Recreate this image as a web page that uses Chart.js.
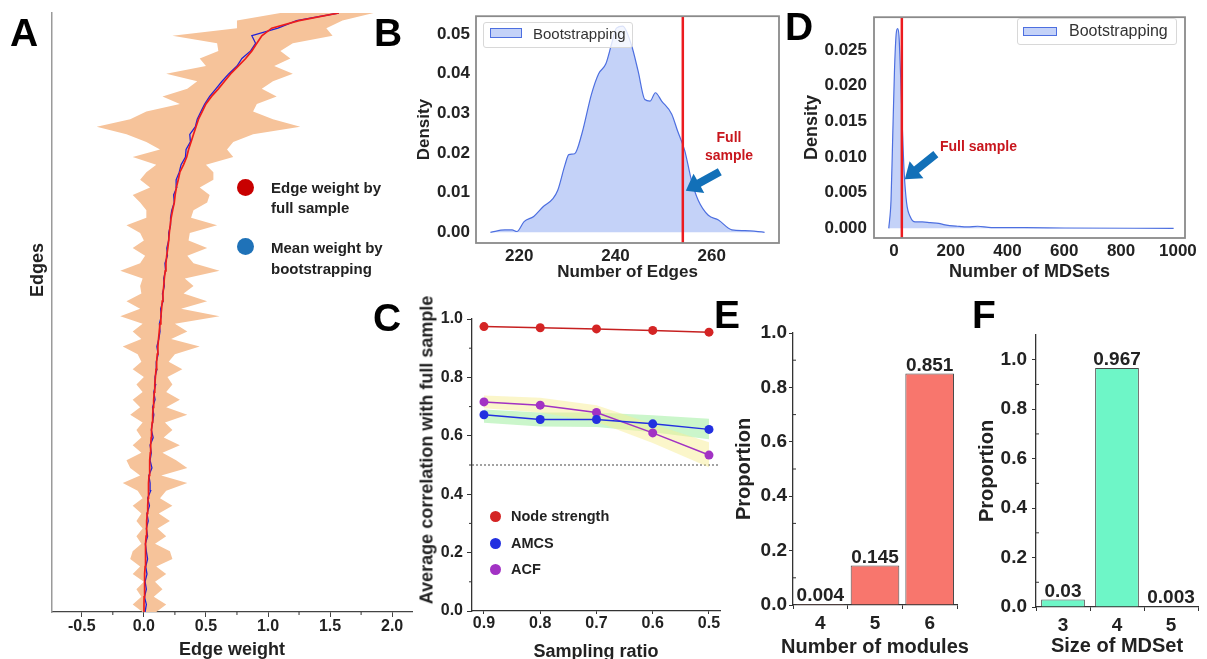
<!DOCTYPE html>
<html>
<head>
<meta charset="utf-8">
<script src="https://cdn.jsdelivr.net/npm/chart.js@4.4.1/dist/chart.umd.min.js"></script>
<style>
  body { margin: 0; width: 1207px; height: 659px; overflow: hidden; background: #fff; position: relative;
         font-family: "Liberation Sans", Arial, sans-serif; color: #222; }
  canvas { position: absolute; }
  .txt { position: absolute; white-space: nowrap; font-weight: bold; }
  .letter { position: absolute; font-size: 39px; line-height: 39px; font-weight: bold; color: #000; }
  .dot { position: absolute; border-radius: 50%; }
  .lgbox { position: absolute; border: 1px solid #d8d8d8; border-radius: 3px; background: rgba(255,255,255,0.8); box-sizing: border-box; }
  .sw { position: absolute; background: rgba(125,155,240,0.45); border: 1px solid #4d6fe0; box-sizing: border-box; }
</style>
</head>
<body>
<canvas id="cA" width="420" height="675" style="left:0;top:0"></canvas>
<canvas id="cB" width="395" height="290" style="left:395px;top:0"></canvas>
<canvas id="cD" width="417" height="290" style="left:790px;top:0"></canvas>
<canvas id="cC" width="330" height="385" style="left:395px;top:290px"></canvas>
<canvas id="cE" width="245" height="385" style="left:725px;top:290px"></canvas>
<canvas id="cF" width="237" height="385" style="left:970px;top:290px"></canvas>

<!-- panel letters -->
<div class="letter" style="left:10px;top:13px">A</div>
<div class="letter" style="left:374px;top:13px">B</div>
<div class="letter" style="left:373px;top:298px">C</div>
<div class="letter" style="left:785px;top:7px">D</div>
<div class="letter" style="left:714px;top:295px">E</div>
<div class="letter" style="left:972px;top:295px">F</div>

<!-- A: axis title + legend -->
<div class="txt" style="left:37px;top:270px;font-size:18px;transform:translate(-50%,-50%) rotate(-90deg)">Edges</div>
<div class="dot" style="left:237px;top:179px;width:17px;height:17px;background:#c80000"></div>
<div class="txt" style="left:271px;top:178px;font-size:15px;line-height:20px">Edge weight by<br>full sample</div>
<div class="dot" style="left:237px;top:238px;width:17px;height:17px;background:#1f72b8"></div>
<div class="txt" style="left:271px;top:237px;font-size:15px;line-height:21px">Mean weight by<br>bootstrapping</div>

<!-- B: legend + note -->
<div class="lgbox" style="left:483px;top:22px;width:150px;height:26px"></div>
<div class="sw" style="left:490px;top:28px;width:32px;height:10px"></div>
<div class="txt" style="left:533px;top:26px;font-size:15px;line-height:15px;font-weight:normal;color:#333">Bootstrapping</div>
<div class="txt" style="left:699px;top:128px;width:60px;text-align:center;font-size:14px;line-height:18px;color:#c8161d">Full<br>sample</div>

<!-- D: legend + note -->
<div class="lgbox" style="left:1017px;top:18px;width:160px;height:27px"></div>
<div class="sw" style="left:1023px;top:27px;width:34px;height:9px"></div>
<div class="txt" style="left:1069px;top:23px;font-size:16px;line-height:16px;font-weight:normal;color:#333">Bootstrapping</div>
<div class="txt" style="left:940px;top:138px;font-size:14px;line-height:16px;color:#c8161d">Full sample</div>

<!-- C: y title + legend -->
<div class="txt" style="left:427px;top:450px;font-size:18px;transform:translate(-50%,-50%) rotate(-90deg)">Average correlation with full sample</div>
<div class="dot" style="left:490px;top:511px;width:11px;height:11px;background:#d42424"></div>
<div class="txt" style="left:511px;top:508px;font-size:14.5px;line-height:16px">Node strength</div>
<div class="dot" style="left:490px;top:538px;width:11px;height:11px;background:#2330e0"></div>
<div class="txt" style="left:511px;top:535px;font-size:14.5px;line-height:16px">AMCS</div>
<div class="dot" style="left:490px;top:564px;width:11px;height:11px;background:#a232c4"></div>
<div class="txt" style="left:511px;top:561px;font-size:14.5px;line-height:16px">ACF</div>

<!-- E: x title (kept outside the canvas so it is not squeezed to the axis width) -->
<div class="txt" style="left:875px;top:634px;font-size:20px;line-height:24px;transform:translateX(-50%)">Number of modules</div>

<script>
// ---- A: edge weights, edges sorted from bottom (0) to top ----
const edgeFull = [
  0.000, 0.001, 0.002, 0.004, 0.006, 0.008, 0.010, 0.012, 0.013, 0.016,
  0.018, 0.021, 0.024, 0.027, 0.031, 0.034, 0.036, 0.039, 0.042, 0.045,
  0.049, 0.052, 0.055, 0.059, 0.062, 0.067, 0.071, 0.075, 0.079, 0.084,
  0.088, 0.093, 0.098, 0.103, 0.108, 0.113, 0.118, 0.124, 0.130, 0.137,
  0.143, 0.148, 0.154, 0.160, 0.165, 0.172, 0.178, 0.184, 0.193, 0.200,
  0.205, 0.212, 0.220, 0.232, 0.245, 0.252, 0.262, 0.277, 0.290, 0.320,
  0.345, 0.360, 0.380, 0.400, 0.420, 0.440, 0.470, 0.500, 0.545, 0.600,
  0.650, 0.700, 0.760, 0.820, 0.870, 0.910, 0.950, 1.030, 1.250, 1.570
];
const edgeMean = [
  0.010, 0.020, 0.005, 0.020, 0.010, 0.025, 0.015, 0.030, 0.020, 0.012,
  0.030, 0.020, 0.035, 0.025, 0.045, 0.030, 0.055, 0.050, 0.040, 0.065,
  0.050, 0.060, 0.050, 0.075, 0.060, 0.070, 0.080, 0.070, 0.090, 0.080,
  0.095, 0.090, 0.105, 0.100, 0.115, 0.105, 0.120, 0.130, 0.125, 0.140,
  0.135, 0.155, 0.150, 0.165, 0.160, 0.175, 0.170, 0.190, 0.185, 0.200,
  0.200, 0.215, 0.215, 0.225, 0.245, 0.240, 0.265, 0.260, 0.285, 0.300,
  0.335, 0.340, 0.375, 0.370, 0.415, 0.430, 0.460, 0.490, 0.530, 0.580,
  0.630, 0.685, 0.750, 0.790, 0.860, 0.900, 0.870, 1.080, 1.230, 1.570
];
const edgeLow = [
  -0.01, -0.09, -0.02, -0.06, 0.00, -0.09, -0.03, -0.11, -0.09, -0.02,
  -0.06, -0.01, -0.06, -0.02, -0.09, -0.01, -0.05, -0.17, -0.03, -0.11,
  -0.14, -0.02, -0.09, -0.02, -0.06, -0.01, -0.11, -0.03, -0.09, -0.01,
  -0.06, 0.00, -0.09, -0.02, -0.05, -0.17, -0.02, -0.09, -0.01, -0.19,
  -0.03, -0.14, -0.02, -0.03, -0.01, -0.19, -0.03, 0.01, -0.09, 0.00,
  -0.03, -0.14, 0.02, 0.02, -0.03, -0.09, 0.05, -0.03, 0.02, 0.10,
  -0.09, 0.13, 0.02, -0.14, -0.38, -0.11, 0.02, 0.29, 0.15, 0.35,
  0.43, 0.18, 0.50, 0.45, 0.60, 0.59, 0.23, 0.75, 0.75, 1.10
];
const edgeHigh = [
  0.10, 0.18, 0.08, 0.15, 0.09, 0.18, 0.10, 0.23, 0.21, 0.09,
  0.18, 0.11, 0.21, 0.12, 0.23, 0.13, 0.18, 0.35, 0.14, 0.35,
  0.26, 0.15, 0.29, 0.16, 0.23, 0.17, 0.35, 0.18, 0.29, 0.18,
  0.23, 0.19, 0.31, 0.20, 0.25, 0.45, 0.22, 0.35, 0.25, 0.61,
  0.30, 0.51, 0.32, 0.40, 0.33, 0.61, 0.40, 0.35, 0.51, 0.36,
  0.37, 0.59, 0.38, 0.40, 0.51, 0.53, 0.45, 0.56, 0.56, 0.50,
  0.72, 0.67, 0.72, 0.88, 1.26, 1.04, 0.88, 0.91, 1.07, 0.95,
  1.04, 1.20, 1.05, 1.18, 1.10, 1.20, 1.52, 1.47, 1.60, 1.85
];

// ---- B: density of number of edges ----
const edgeCounts = [214, 217, 218.5, 219.5, 221, 223, 225, 227, 228, 229.5, 230.3, 231.5, 233, 235, 236.5, 238,
  239.3, 240.2, 241.5, 243.3, 244.7, 246.1, 247.2, 248.3, 249.6, 251.7, 252.9, 254.4, 255.8, 257.2, 259.3,
  261.4, 264.2, 266.9, 271];
const edgeDensity = [0, 0.0006, 0.0006, 0.0002, 0.0027, 0.0040, 0.0065, 0.0085, 0.0106, 0.0170, 0.0196, 0.0198,
  0.0248, 0.0348, 0.0400, 0.0425, 0.0480, 0.0515, 0.0520, 0.0473, 0.0407, 0.0335, 0.0331, 0.0352, 0.0331,
  0.0298, 0.0256, 0.0206, 0.0131, 0.0081, 0.0043, 0.0031, 0.0006, 0.0004, 0];
const fullEdges = 254;

// ---- D: density of number of MDSets ----
const mdsetCounts = [-18, -10, -4, 2, 8, 13, 18, 24, 30, 36, 45, 58, 75, 100, 128, 158, 180, 224, 260, 295, 343, 460, 600, 985];
const mdsetDensity = [0, 0.0040, 0.0130, 0.0220, 0.0272, 0.0280, 0.0270, 0.0210, 0.0140, 0.0080, 0.0035, 0.0016,
  0.0009, 0.0009, 0.0008, 0.0007, 0.0005, 0.0003, 0.0002, 0.0003, 0.0001, 0.0001, 0.00005, 0];
const fullMdsets = 28;

// ---- C: correlation vs sampling ratio ----
const ratios = [0.9, 0.8, 0.7, 0.6, 0.5];
const nodeStrength = [0.974, 0.970, 0.966, 0.961, 0.955];
const amcs = [0.672, 0.656, 0.656, 0.641, 0.622];
const amcsLow = [0.645, 0.632, 0.630, 0.612, 0.588];
const amcsHigh = [0.690, 0.680, 0.680, 0.670, 0.658];
const acf = [0.716, 0.705, 0.680, 0.610, 0.534];
const acfLow = [0.694, 0.680, 0.648, 0.575, 0.492];
const acfHigh = [0.738, 0.730, 0.705, 0.640, 0.578];
const threshold = 0.5;

// ---- E / F: proportions ----
const moduleCats = ['4', '5', '6'];
const moduleProps = [0.004, 0.145, 0.851];
const mdsetSizes = ['3', '4', '5'];
const mdsetProps = [0.03, 0.967, 0.003];

const FONT = '"Liberation Sans", Arial, sans-serif';
Chart.defaults.font.family = FONT;
Chart.defaults.color = '#222';
Chart.defaults.animation = false;
Chart.defaults.events = [];
Chart.defaults.plugins.legend.display = false;
Chart.defaults.plugins.tooltip.enabled = false;

const bold = size => ({family: FONT, size: size, weight: 'bold'});
const fitW = w => s => { s.width = w; };
const fitH = h => s => { s.height = h; };
const pts = (xs, ys) => xs.map((x, i) => ({x: x, y: ys[i]}));

// small ticks half way between the labelled ones
const minorTicks = {
  id: 'minorTicks',
  afterDraw(chart, args, opts) {
    const ctx = chart.ctx;
    (opts.axes || []).forEach(a => {
      const s = chart.scales[a.id];
      const t = s.ticks.map(k => k.value);
      ctx.save();
      ctx.strokeStyle = '#333';
      ctx.lineWidth = 1;
      for (let k = 0; k < t.length - 1; k++) {
        const p = s.getPixelForValue((t[k] + t[k + 1]) / 2);
        ctx.beginPath();
        if (s.isHorizontal()) { ctx.moveTo(p, s.top); ctx.lineTo(p, s.top + a.len); }
        else { ctx.moveTo(s.right, p); ctx.lineTo(s.right + a.dir * a.len, p); }
        ctx.stroke();
      }
      ctx.restore();
    });
  }
};

const frame = {
  id: 'frame',
  afterDraw(chart) {
    const {ctx, chartArea: a} = chart;
    ctx.save();
    ctx.strokeStyle = '#8a8a8a';
    ctx.lineWidth = 1.8;
    ctx.strokeRect(a.left, a.top, a.right - a.left, a.bottom - a.top);
    ctx.restore();
  }
};

function drawArrow(ctx, tx, ty, fx, fy, color) {
  const dx = tx - fx, dy = ty - fy, L = Math.hypot(dx, dy);
  const ux = dx / L, uy = dy / L, nx = -uy, ny = ux;
  const head = 15, hw = 11, sw = 4;
  const bx = tx - ux * head, by = ty - uy * head;
  ctx.save();
  ctx.fillStyle = color;
  ctx.beginPath();
  ctx.moveTo(fx + nx * sw, fy + ny * sw);
  ctx.lineTo(bx + nx * sw, by + ny * sw);
  ctx.lineTo(bx + nx * hw, by + ny * hw);
  ctx.lineTo(tx, ty);
  ctx.lineTo(bx - nx * hw, by - ny * hw);
  ctx.lineTo(bx - nx * sw, by - ny * sw);
  ctx.lineTo(fx - nx * sw, fy - ny * sw);
  ctx.closePath();
  ctx.fill();
  ctx.restore();
}

// red line for the full sample value + blue arrow pointing at it
const fullLine = {
  id: 'fullLine',
  afterDatasetsDraw(chart, args, o) {
    const {ctx, chartArea: a, scales: {x, y}} = chart;
    const px = x.getPixelForValue(o.value);
    ctx.save();
    ctx.strokeStyle = '#ec1b1f';
    ctx.lineWidth = 2.5;
    ctx.beginPath();
    ctx.moveTo(px, a.top);
    ctx.lineTo(px, a.bottom);
    ctx.stroke();
    ctx.restore();
    const tx = px + o.tipDx, ty = y.getPixelForValue(o.tipY);
    drawArrow(ctx, tx, ty, tx + o.tail[0], ty + o.tail[1], '#1270b8');
  }
};

const refLine = {
  id: 'refLine',
  beforeDatasetsDraw(chart, args, o) {
    const {ctx, chartArea: a, scales: {y}} = chart;
    const py = y.getPixelForValue(o.value);
    ctx.save();
    ctx.strokeStyle = '#666';
    ctx.lineWidth = 1.2;
    ctx.setLineDash([2, 2]);
    ctx.beginPath();
    ctx.moveTo(a.left, py);
    ctx.lineTo(a.right, py);
    ctx.stroke();
    ctx.restore();
  }
};

const barLabels = {
  id: 'barLabels',
  afterDatasetsDraw(chart) {
    const ctx = chart.ctx;
    const vals = chart.data.datasets[0].data;
    ctx.save();
    ctx.font = 'bold 19px ' + FONT;
    ctx.fillStyle = '#222';
    ctx.textAlign = 'center';
    ctx.textBaseline = 'alphabetic';
    chart.getDatasetMeta(0).data.forEach((bar, i) => ctx.fillText(String(vals[i]), bar.x, bar.y - 3));
    ctx.restore();
  }
};

const axisLine = {color: '#333', width: 1.3};

// ---------- A ----------
const idx = edgeFull.map((v, i) => i);
new Chart(document.getElementById('cA'), {
  type: 'line',
  data: {
    datasets: [
      {data: pts(edgeLow, idx).concat(pts(edgeHigh, idx).reverse()), fill: 'shape', order: 3,
       backgroundColor: '#f6c39a', borderColor: 'rgba(0,0,0,0)', borderWidth: 0, pointRadius: 0},
      {data: pts(edgeMean, idx), order: 2, borderColor: '#2020d8', borderWidth: 1.3, pointRadius: 0, fill: false},
      {data: pts(edgeFull, idx), order: 1, borderColor: '#ee1c1c', borderWidth: 1.7, pointRadius: 0, fill: false}
    ]
  },
  options: {
    responsive: false,
    layout: {padding: {top: 13, right: 8, left: 0, bottom: 0}},
    scales: {
      x: {type: 'linear', min: -0.74, max: 2.16, afterFit: fitH(63),
          ticks: {stepSize: 0.5, includeBounds: false, font: bold(16), padding: 0, callback: v => v.toFixed(1)},
          grid: {drawOnChartArea: false, tickLength: 5, color: '#444'},
          border: {color: '#444', width: 1.3},
          title: {display: true, text: 'Edge weight', font: bold(18), padding: {top: 0, bottom: 14}}},
      y: {type: 'linear', min: 0, max: 79, afterFit: fitW(52),
          ticks: {display: false}, grid: {display: false, drawTicks: false},
          border: {color: '#9a9a9a', width: 1.5}}
    },
    plugins: {minorTicks: {axes: [{id: 'x', len: 3}]}}
  },
  plugins: [minorTicks]
});

// ---------- B ----------
new Chart(document.getElementById('cB'), {
  type: 'line',
  data: {
    datasets: [{data: pts(edgeCounts, edgeDensity), fill: 'origin', cubicInterpolationMode: 'monotone',
      backgroundColor: 'rgba(125,155,240,0.45)', borderColor: '#4d6fe0', borderWidth: 1.2, pointRadius: 0}]
  },
  options: {
    responsive: false,
    layout: {padding: {top: 14, right: 11, left: 0, bottom: 0}},
    scales: {
      x: {type: 'linear', min: 211, max: 274, afterFit: fitH(47),
          ticks: {stepSize: 20, includeBounds: false, font: bold(17), padding: 3, callback: v => String(v)},
          grid: {display: false, drawTicks: false}, border: {display: false},
          title: {display: true, text: 'Number of Edges', font: bold(17), padding: {top: 0, bottom: 7}}},
      y: {type: 'linear', min: -0.0027, max: 0.0545, afterFit: fitW(81),
          ticks: {stepSize: 0.01, includeBounds: false, font: bold(17), padding: 6, callback: v => v.toFixed(2)},
          grid: {display: false, drawTicks: false}, border: {display: false},
          title: {display: true, text: 'Density', font: bold(17), padding: {top: 19, bottom: 0}}}
    },
    plugins: {fullLine: {value: fullEdges, tipDx: 3, tipY: 0.0105, tail: [34, -19]}}
  },
  plugins: [frame, fullLine]
});

// ---------- D ----------
new Chart(document.getElementById('cD'), {
  type: 'line',
  data: {
    datasets: [{data: pts(mdsetCounts, mdsetDensity), fill: 'origin', cubicInterpolationMode: 'monotone',
      backgroundColor: 'rgba(125,155,240,0.45)', borderColor: '#4d6fe0', borderWidth: 1.2, pointRadius: 0}]
  },
  options: {
    responsive: false,
    layout: {padding: {top: 9, right: 22, left: 0, bottom: 0}},
    scales: {
      x: {type: 'linear', min: -70, max: 1025, afterFit: fitH(52),
          ticks: {stepSize: 200, includeBounds: false, font: bold(17), padding: 3, callback: v => String(v)},
          grid: {display: false, drawTicks: false}, border: {display: false},
          title: {display: true, text: 'Number of MDSets', font: bold(18), padding: {top: 0, bottom: 7}}},
      y: {type: 'linear', min: -0.00135, max: 0.0296, afterFit: fitW(84),
          ticks: {stepSize: 0.005, includeBounds: false, font: bold(17), padding: 7, callback: v => v.toFixed(3)},
          grid: {display: false, drawTicks: false}, border: {display: false},
          title: {display: true, text: 'Density', font: bold(18), padding: {top: 11, bottom: 0}}}
    },
    plugins: {fullLine: {value: fullMdsets, tipDx: 3, tipY: 0.0069, tail: [31, -25]}}
  },
  plugins: [frame, fullLine]
});

// ---------- C ----------
const lineSet = (ys, color, dot) => ({data: pts(ratios, ys), order: 1, borderColor: color, borderWidth: 1.5,
  pointRadius: 4.5, pointBackgroundColor: dot, pointBorderWidth: 0, fill: false});
new Chart(document.getElementById('cC'), {
  type: 'line',
  data: {
    datasets: [
      {data: pts(ratios, amcsHigh).concat(pts(ratios, amcsLow).reverse()), fill: 'shape', order: 3,
       backgroundColor: 'rgba(140,235,140,0.45)', borderColor: 'rgba(0,0,0,0)', borderWidth: 0, pointRadius: 0},
      {data: pts(ratios, acfHigh).concat(pts(ratios, acfLow).reverse()), fill: 'shape', order: 2,
       backgroundColor: 'rgba(248,238,150,0.5)', borderColor: 'rgba(0,0,0,0)', borderWidth: 0, pointRadius: 0},
      lineSet(nodeStrength, '#c62020', '#d42424'),
      lineSet(amcs, '#2330e0', '#2330e0'),
      lineSet(acf, '#a232c4', '#a232c4')
    ]
  },
  options: {
    responsive: false,
    layout: {padding: {top: 29, right: 5, left: 0, bottom: 0}},
    scales: {
      x: {type: 'linear', reverse: true, min: 0.4804, max: 0.9213, afterFit: fitH(64),
          ticks: {stepSize: 0.1, includeBounds: false, font: bold(16), padding: 0, callback: v => v.toFixed(1)},
          grid: {drawOnChartArea: false, tickLength: 3, color: '#333'}, border: axisLine,
          title: {display: true, text: 'Sampling ratio', font: bold(18), padding: {top: 0, bottom: 12}}},
      y: {type: 'linear', min: 0, max: 1, afterFit: fitW(77),
          ticks: {stepSize: 0.2, font: bold(16), padding: 4, callback: v => v.toFixed(1)},
          grid: {drawOnChartArea: false, tickLength: 5, color: '#333'}, border: axisLine}
    },
    plugins: {refLine: {value: threshold}, minorTicks: {axes: [{id: 'y', len: 3, dir: -1}]}}
  },
  plugins: [refLine, minorTicks]
});

// ---------- E / F ----------
function propChart(id, cats, vals, color, barPct, yMax, pad, fit, titles) {
  return new Chart(document.getElementById(id), {
    type: 'bar',
    data: {labels: cats, datasets: [{data: vals, backgroundColor: color, borderColor: '#4a4a4a', borderWidth: 1,
      barPercentage: barPct, categoryPercentage: 1}]},
    options: {
      responsive: false,
      layout: {padding: pad},
      scales: {
        x: {afterFit: fitH(fit.h), ticks: {font: bold(19), padding: 3},
            grid: {drawOnChartArea: false, tickLength: 4, color: '#333'}, border: axisLine,
            title: {display: !!titles[0], text: titles[0], font: bold(20), padding: {top: 0, bottom: 17}}},
        y: {min: 0, max: yMax, afterFit: fitW(fit.w),
            ticks: {stepSize: 0.2, includeBounds: false, font: bold(19), padding: fit.tp, callback: v => v.toFixed(1)},
            grid: {drawOnChartArea: false, tickLength: 4, color: '#333'}, border: axisLine,
            title: {display: true, text: titles[1], font: bold(20), padding: {top: fit.yt, bottom: 0}}}
      },
      plugins: {minorTicks: {axes: [{id: 'y', len: 3, dir: 1}]}}
    },
    plugins: [barLabels, minorTicks]
  });
}
propChart('cE', moduleCats, moduleProps, '#f8766d', 0.89, 1.0,
  {top: 43, right: 13, left: 0, bottom: 0}, {w: 68, h: 70, tp: 2, yt: 7}, ['', 'Proportion']);
propChart('cF', mdsetSizes, mdsetProps, '#6ef6c7', 0.81, 1.1,
  {top: 45, right: 9, left: 0, bottom: 0}, {w: 66, h: 68, tp: 5, yt: 5}, ['Size of MDSet', 'Proportion']);
</script>
</body>
</html>
